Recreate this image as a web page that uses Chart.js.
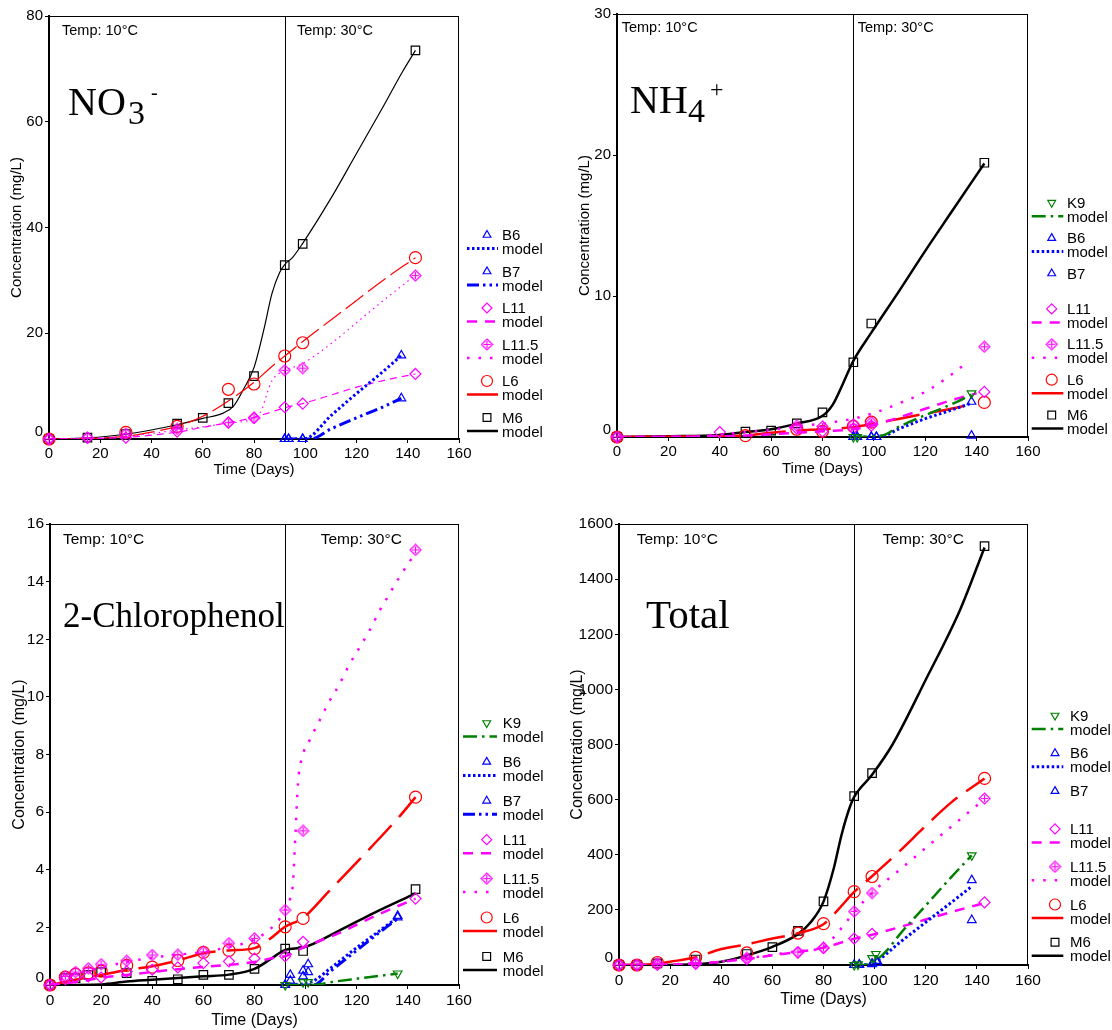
<!DOCTYPE html>
<html>
<head>
<meta charset="utf-8">
<title>Concentration vs time</title>
<script src="https://cdn.jsdelivr.net/npm/chart.js@4.4.1/dist/chart.umd.min.js"></script>
<style>
  html, body { margin: 0; padding: 0; background: #fff; }
  #wrap { position: relative; width: 1112px; height: 1030px; overflow: hidden; }
  canvas { position: absolute; }
</style>
</head>
<body>
<div id="wrap">
  <canvas id="no3" width="556" height="490" style="left:0;top:0"></canvas>
  <canvas id="nh4" width="556" height="490" style="left:556px;top:0"></canvas>
  <canvas id="cp" width="556" height="540" style="left:0;top:490px"></canvas>
  <canvas id="tot" width="556" height="540" style="left:556px;top:490px"></canvas>
</div>
<script>
const dayTicks = [0, 20, 40, 60, 80, 100, 120, 140, 160];
const switchDay = 92;

// NO3- : [day, mg/L]
const no3Ticks = [0, 20, 40, 60, 80];
const no3_B6 = [[92, 0], [93.5, 0], [99, 0], [137.5, 15.8]];
const no3_B6_fit = [[92, 0], [100, 0.1], [110, 4.4], [120, 8.6], [130, 12.6], [137.5, 15.8]];
const no3_B7 = [[92, 0], [93.5, 0], [99, 0], [137.5, 7.7]];
const no3_B7_fit = [[92, 0], [102, 0], [110, 1.9], [120, 4.0], [130, 6.0], [137.5, 7.7]];
const no3_L11 = [[0, 0], [15, 0.2], [30, 0.25], [50, 1.4], [70, 3.1], [80, 4.0], [92, 6.0], [99, 6.7], [143, 12.3]];
const no3_L11_fit = [[0, 0], [15, 0.05], [30, 0.3], [50, 1.3], [60, 2.2], [70, 3.1], [80, 4.1], [92, 5.9], [99, 6.7], [110, 8.3], [120, 9.8], [130, 11.0], [143, 12.3]];
const no3_L115 = [[0, 0], [15, 0.25], [30, 1.0], [50, 1.9], [70, 3.1], [80, 4.0], [92, 13.0], [99, 13.4], [143, 30.9]];
const no3_L115_fit = [[0, 0], [30, 0.5], [50, 1.7], [70, 3.0], [80, 4.0], [83, 5.5], [85, 8.5], [87, 11], [90, 12.5], [92, 13], [99, 14.3], [110, 18], [120, 22], [130, 26], [143, 31]];
const no3_L6 = [[0, 0], [30, 1.25], [50, 2.4], [70, 9.4], [80, 10.4], [92, 15.7], [99, 18.2], [143, 34.3]];
const no3_L6_fit = [[0, 0], [15, 0.1], [30, 0.5], [40, 1.3], [50, 2.4], [60, 4.3], [70, 7.2], [80, 10.7], [86, 13.3], [92, 15.7], [100, 18.8], [110, 22.5], [120, 26.2], [130, 29.9], [143, 34.3]];
const no3_M6 = [[0, 0], [15, 0.25], [30, 0.95], [50, 2.9], [60, 4.0], [70, 6.8], [80, 11.9], [92, 32.9], [99, 36.9], [143, 73.5]];
const no3_M6_fit = [[0, 0], [15, 0.2], [30, 0.9], [50, 2.7], [60, 3.9], [68, 4.9], [72, 6.2], [76, 9.5], [80, 13.5], [84, 21], [87, 27.5], [90, 31.5], [92, 33], [95, 34.3], [99, 37], [110, 45.5], [120, 54], [130, 62.5], [138, 69.5], [143, 73.5]];

// NH4+
const nh4Ticks = [0, 10, 20, 30];
const nh4_K9 = [[92, 0], [93.5, 0], [138, 3.1]];
const nh4_K9_fit = [[92, 0], [103, 0.1], [110, 0.75], [120, 1.55], [130, 2.3], [138, 3.0]];
const nh4_B6 = [[92, 0], [93.5, 0], [99, 0], [101, 0], [138, 2.5]];
const nh4_B6_fit = [[92, 0], [102, 0], [110, 0.6], [120, 1.3], [130, 1.9], [138, 2.4]];
const nh4_B7 = [[92, 0], [93.5, 0], [99, 0], [101, 0], [138, 0.1]];
const nh4_L11 = [[0, 0], [40, 0.35], [70, 0.6], [80, 0.4], [92, 0.6], [99, 0.8], [143, 3.2]];
const nh4_L11_fit = [[0, 0], [40, 0.05], [50, 0.1], [60, 0.2], [70, 0.3], [80, 0.4], [92, 0.55], [100, 0.85], [110, 1.4], [120, 2.0], [130, 2.6], [140, 3.1]];
const nh4_L115 = [[0, 0], [70, 0.8], [80, 0.75], [92, 0.9], [99, 1.05], [143, 6.4]];
const nh4_L115_fit = [[0, 0], [30, 0.05], [40, 0.2], [50, 0.35], [60, 0.5], [70, 0.75], [80, 0.95], [92, 1.3], [100, 1.7], [110, 2.4], [120, 3.2], [130, 4.4], [137, 5.4]];
const nh4_L6 = [[0, 0], [50, 0.1], [70, 0.55], [80, 0.4], [92, 0.75], [99, 1.05], [143, 2.45]];
const nh4_L6_fit = [[0, 0], [40, 0.05], [50, 0.1], [60, 0.3], [70, 0.45], [80, 0.55], [92, 0.7], [100, 0.95], [110, 1.3], [120, 1.65], [130, 2.0], [137.5, 2.3]];
const nh4_M6 = [[0, 0], [50, 0.38], [60, 0.45], [70, 0.97], [80, 1.75], [92, 5.3], [99, 8.05], [143, 19.45]];
const nh4_M6_fit = [[0, 0], [20, 0.05], [40, 0.15], [50, 0.35], [60, 0.55], [70, 0.95], [80, 1.5], [84, 2.3], [88, 3.8], [92, 5.4], [99, 7.4], [110, 10.4], [120, 13.2], [130, 15.9], [143, 19.4]];

// 2-chlorophenol
const cpTicks = [0, 2, 4, 6, 8, 10, 12, 14, 16];
const cp_K9 = [[92, 0], [99, 0.1], [101, 0.1], [136, 0.4]];
const cp_K9_fit = [[92, 0], [100, 0], [105, 0.02], [110, 0.1], [120, 0.22], [130, 0.33], [136, 0.4]];
const cp_B6 = [[92, 0], [94, 0.35], [99, 0.5], [101, 0.72], [136, 2.4]];
const cp_B6_fit = [[92, 0], [102, 0.1], [110, 0.6], [120, 1.3], [130, 1.95], [136, 2.35]];
const cp_B7 = [[92, 0], [94, 0.15], [99, 0.3], [101, 0.45], [136, 2.35]];
const cp_B7_fit = [[92, 0], [103, 0], [110, 0.5], [120, 1.2], [130, 1.9], [136, 2.3]];
const cp_L11 = [[0, 0], [6, 0.2], [10, 0.26], [15, 0.3], [20, 0.26], [30, 0.47], [40, 0.53], [50, 0.61], [60, 0.76], [70, 0.82], [80, 0.92], [92, 1.0], [99, 1.5], [143, 3.0]];
const cp_L11_fit = [[0, 0], [10, 0.1], [20, 0.25], [30, 0.35], [40, 0.45], [50, 0.55], [60, 0.63], [70, 0.7], [80, 0.8], [88, 0.95], [92, 1.0], [99, 1.3], [113, 1.8], [126, 2.35], [143, 3.0]];
const cp_L115 = [[0, 0], [6, 0.3], [10, 0.45], [15, 0.58], [20, 0.72], [30, 0.84], [40, 1.04], [50, 1.05], [60, 1.15], [70, 1.45], [80, 1.62], [92, 2.6], [99, 5.35], [143, 15.1]];
const cp_L115_fit = [[0, 0], [6, 0.25], [10, 0.38], [20, 0.6], [30, 0.8], [40, 0.95], [50, 1.05], [60, 1.15], [70, 1.32], [80, 1.58], [88, 2.1], [92, 2.6], [94, 3.0], [95, 3.5], [96, 5.2], [97, 7.0], [98.3, 7.8], [101.6, 8.5], [105, 9.1], [109, 9.8], [113, 10.4], [117, 11.1], [121, 11.7], [125, 12.3], [129, 13.0], [133, 13.6], [137, 14.2], [143, 15.0]];
const cp_L6 = [[0, 0], [6, 0.27], [10, 0.38], [15, 0.42], [20, 0.48], [30, 0.68], [40, 0.62], [50, 0.85], [60, 1.13], [70, 1.2], [80, 1.26], [92, 2.02], [99, 2.31], [143, 6.52]];
const cp_L6_fit = [[0, 0], [10, 0.18], [20, 0.35], [30, 0.52], [40, 0.65], [50, 0.85], [60, 1.1], [70, 1.2], [80, 1.28], [86, 1.6], [92, 2.02], [99, 2.33], [109, 3.24], [121, 4.35], [137, 5.88], [143, 6.52]];
const cp_M6 = [[0, 0], [6, 0.24], [10, 0.24], [15, 0.35], [20, 0.45], [30, 0.41], [40, 0.14], [50, 0.2], [60, 0.35], [70, 0.35], [80, 0.56], [92, 1.26], [99, 1.18], [143, 3.33]];
const cp_M6_fit = [[0, 0], [20, 0.02], [30, 0.12], [40, 0.18], [60, 0.3], [70, 0.36], [80, 0.56], [87, 0.94], [92, 1.22], [99, 1.3], [113, 1.88], [126, 2.47], [143, 3.18]];

// Total
const totTicks = [0, 200, 400, 600, 800, 1000, 1200, 1400, 1600];
const tot_K9 = [[92, 0], [93.5, 2], [99, 25], [100.5, 40], [138, 398]];
const tot_K9_fit = [[92, 0], [95, 0], [98, 5], [101, 20], [105, 55], [110, 113], [120, 216], [130, 319], [138, 398]];
const tot_B6 = [[92, 0], [94, 2], [99, 5], [101, 15], [138, 308]];
const tot_B6_fit = [[92, 0], [98, 2], [101, 15], [110, 83], [120, 155], [130, 227], [138, 285]];
const tot_B7 = [[92, 0], [94, 0], [99, 3], [101, 8], [138, 163]];
const tot_L11 = [[0, 0], [7, 0], [15, 0], [30, 4], [50, 21], [70, 45], [80, 62], [92, 96], [99, 113], [143, 227]];
const tot_L11_fit = [[0, 0], [15, 0], [20, 1], [30, 4], [40, 12], [50, 22], [60, 35], [70, 47], [80, 63], [92, 95], [99, 110], [110, 138], [120, 165], [130, 192], [143, 225]];
const tot_L115 = [[0, 0], [7, 0], [15, 7], [30, 8], [50, 26], [70, 47], [80, 62], [92, 194], [99, 261], [143, 604]];
const tot_L115_fit = [[0, 0], [15, 1], [30, 6], [40, 13], [50, 24], [60, 37], [70, 50], [80, 64], [84, 100], [88, 145], [92, 192], [99, 262], [110, 347], [120, 425], [130, 502], [143, 602]];
const tot_L6 = [[0, 0], [7, 0], [15, 9], [30, 28], [50, 44], [70, 116], [80, 150], [92, 266], [99, 321], [143, 677]];
const tot_L6_fit = [[0, 0], [10, 1], [15, 5], [20, 12], [30, 28], [40, 58], [50, 75], [60, 96], [70, 115], [80, 148], [86, 204], [92, 265], [99, 322], [110, 415], [120, 505], [130, 590], [143, 677]];
const tot_M6 = [[0, 0], [7, 0], [15, 6], [30, 20], [50, 40], [60, 65], [70, 124], [80, 231], [92, 613], [99, 696], [143, 1520]];
const tot_M6_fit = [[0, 0], [15, 0], [30, 3], [40, 12], [50, 35], [60, 66], [70, 112], [75, 155], [80, 230], [84, 350], [87, 470], [90, 565], [92, 610], [99, 690], [107, 800], [120, 1035], [133.5, 1290], [143, 1515]];

const SANS = "'Liberation Sans', Arial, sans-serif";
const SERIF = "'Liberation Serif', 'Times New Roman', serif";
Chart.defaults.font.family = SANS;
Chart.defaults.color = '#000';

// diamond with a cross inside, used for the L11.5 reactor
function crossDiamond(color) {
    const c = document.createElement('canvas');
    c.width = 13;
    c.height = 13;
    const g = c.getContext('2d');
    g.strokeStyle = color;
    g.lineWidth = 1.2;
    g.beginPath();
    g.moveTo(6.5, 1); g.lineTo(12, 6.5); g.lineTo(6.5, 12); g.lineTo(1, 6.5); g.closePath();
    g.moveTo(6.5, 3); g.lineTo(6.5, 10);
    g.moveTo(3, 6.5); g.lineTo(10, 6.5);
    g.stroke();
    return c;
}

const seriesLook = {
    'K9':    { color: '#008000', point: 'triangle', rotation: 180, radius: 5, dash: [14, 5, 2.5, 5] },
    'B6':    { color: '#0000ff', point: 'triangle', radius: 5, dash: [2.5, 2.5] },
    'B7':    { color: '#0000ff', point: 'triangle', radius: 5, dash: [12, 4, 2.5, 4, 2.5, 4] },
    'L11':   { color: '#ff00ff', point: 'rectRot', radius: 5.5, dash: [10, 8] },
    'L11.5': { color: '#ff00ff', point: crossDiamond('#ff00ff'), radius: 6, dash: [2.5, 9] },
    'L6':    { color: '#ff0000', point: 'circle', radius: 6, dash: [34, 11] },
    'M6':    { color: '#000000', point: 'rect', radius: 6, dash: [] }
};
// hairline versions used on the nitrate panel
const thinDash = { 'L11': [7, 5], 'L11.5': [1.5, 4], 'L6': [22, 6], 'M6': [] };

const panels = [
    {
        id: 'no3', yTicks: no3Ticks, thin: true, tickSize: 15, titleSize: 15,
        area: { l: 49, t: 16, r: 459, b: 439 }, yTitlePad: 7.7, xTitlePad: 11,
        temp: [[62, 31], [297, 31]], tempSize: 14.5,
        name: [['NO', 68, 115, 40], ['3', 128, 124, 34], ['-', 151, 99, 20]],
        key: { x: 487, y0: 235, dy: 36.5, textX: 502, x0: 467, x1: 498 },
        series: [
            ['B6', no3_B6, no3_B6_fit],
            ['B7', no3_B7, no3_B7_fit],
            ['L11', no3_L11, no3_L11_fit],
            ['L11.5', no3_L115, no3_L115_fit],
            ['L6', no3_L6, no3_L6_fit],
            ['M6', no3_M6, no3_M6_fit]
        ]
    },
    {
        id: 'nh4', yTicks: nh4Ticks, thin: false, tickSize: 15, titleSize: 15,
        area: { l: 61, t: 14, r: 472, b: 437 }, yTitlePad: 20, xTitlePad: 12,
        temp: [[65.7, 28.3], [301.7, 28.3]], tempSize: 14.5,
        name: [['NH', 74, 113, 40], ['4', 132, 122, 34], ['+', 154, 97, 24]],
        key: { x: 495.7, y0: 202.7, dy: 35.4, textX: 511, x0: 475.7, x1: 507.3 },
        series: [
            ['K9', nh4_K9, nh4_K9_fit],
            ['B6', nh4_B6, nh4_B6_fit],
            ['B7', nh4_B7, null],
            ['L11', nh4_L11, nh4_L11_fit],
            ['L11.5', nh4_L115, nh4_L115_fit],
            ['L6', nh4_L6, nh4_L6_fit],
            ['M6', nh4_M6, nh4_M6_fit]
        ]
    },
    {
        id: 'cp', yTicks: cpTicks, thin: false, tickSize: 15.5, titleSize: 16,
        area: { l: 50, t: 34, r: 459, b: 495 }, yTitlePad: 9.7, xTitlePad: 0,
        temp: [[63, 49.6], [320.7, 49.6]], tempSize: 15.5,
        name: [['2-Chlorophenol', 63, 137, 35]],
        key: { x: 486.7, y0: 233, dy: 38.9, textX: 502.7, x0: 463, x1: 497 },
        series: [
            ['K9', cp_K9, cp_K9_fit],
            ['B6', cp_B6, cp_B6_fit],
            ['B7', cp_B7, cp_B7_fit],
            ['L11', cp_L11, cp_L11_fit],
            ['L11.5', cp_L115, cp_L115_fit],
            ['L6', cp_L6, cp_L6_fit],
            ['M6', cp_M6, cp_M6_fit]
        ]
    },
    {
        id: 'tot', yTicks: totTicks, thin: false, tickSize: 15.5, titleSize: 16,
        area: { l: 63, t: 34, r: 472, b: 475 }, yTitlePad: 11.7, xTitlePad: 20.4,
        temp: [[80.7, 49.6], [326.7, 49.6]], tempSize: 15.5,
        name: [['Total', 90, 138, 41]],
        key: { x: 499, y0: 225.5, dy: 37.8, textX: 514, x0: 475.7, x1: 507.3 },
        series: [
            ['K9', tot_K9, tot_K9_fit],
            ['B6', tot_B6, tot_B6_fit],
            ['B7', tot_B7, null],
            ['L11', tot_L11, tot_L11_fit],
            ['L11.5', tot_L115, tot_L115_fit],
            ['L6', tot_L6, tot_L6_fit],
            ['M6', tot_M6, tot_M6_fit]
        ]
    }
];

function toXY(pairs) {
    return pairs.map(([x, y]) => ({ x: x, y: y }));
}

function lineLook(name, thin) {
    const s = seriesLook[name];
    if (thin && thinDash[name]) return { width: 1.2, dash: thinDash[name] };
    return { width: name === 'B6' || name === 'B7' ? 3 : 2.5, dash: s.dash };
}

function drawKey(ctx, p) {
    const k = p.key;
    p.series.forEach(([name, , fit], i) => {
        const s = seriesLook[name];
        const y = k.y0 + i * k.dy;
        ctx.setLineDash([]);
        ctx.strokeStyle = s.color;
        ctx.fillStyle = 'rgba(0,0,0,0)';
        ctx.lineWidth = 1.2;
        Chart.helpers.drawPoint(ctx, { pointStyle: s.point, rotation: s.rotation || 0, radius: s.radius - 0.5, borderWidth: 1.2 }, k.x, y);

        ctx.fillStyle = '#000';
        ctx.font = '15px ' + SANS;
        ctx.textAlign = 'left';
        ctx.textBaseline = 'middle';
        ctx.fillText(name, k.textX, y + 1);
        if (fit) {
            ctx.fillText('model', k.textX, y + 15);
            ctx.strokeStyle = s.color;
            ctx.lineWidth = name === 'B6' || name === 'B7' ? 3 : 2.5;
            ctx.setLineDash(name === 'L6' ? [] : s.dash);
            ctx.beginPath();
            ctx.moveTo(k.x0, y + 13.5);
            ctx.lineTo(k.x1, y + 13.5);
            ctx.stroke();
        }
    });
    ctx.setLineDash([]);
}

function decorFor(p) {
    return {
        id: 'decor',
        beforeDatasetsDraw(chart) {
            const { ctx, chartArea: a, scales: { x } } = chart;
            const xb = Math.round(x.getPixelForValue(switchDay)) + 0.5;
            ctx.save();
            ctx.strokeStyle = '#000';
            ctx.lineWidth = 1;
            ctx.beginPath();
            ctx.moveTo(a.left, a.top + 0.5);
            ctx.lineTo(a.right, a.top + 0.5);
            ctx.moveTo(a.right - 0.5, a.top);
            ctx.lineTo(a.right - 0.5, a.bottom);
            ctx.moveTo(xb, a.top);
            ctx.lineTo(xb, a.bottom);
            ctx.stroke();
            ctx.restore();
        },
        afterDraw(chart) {
            const { ctx, chartArea: a } = chart;
            ctx.save();
            ctx.fillStyle = '#000';
            ctx.textBaseline = 'middle';
            ctx.textAlign = 'left';
            ctx.font = p.tempSize + 'px ' + SANS;
            ctx.fillText('Temp: 10°C', p.temp[0][0], p.temp[0][1]);
            ctx.fillText('Temp: 30°C', p.temp[1][0], p.temp[1][1]);

            // zero on the value axis sits a little above the corner
            ctx.textAlign = 'right';
            ctx.font = p.tickSize + 'px ' + SANS;
            ctx.fillText('0', a.left - 6, a.bottom - 7);

            ctx.textAlign = 'left';
            ctx.textBaseline = 'alphabetic';
            p.name.forEach(([txt, x, y, size]) => {
                ctx.font = size + 'px ' + SERIF;
                ctx.fillText(txt, x, y);
            });

            drawKey(ctx, p);
            ctx.restore();
        }
    };
}

function buildPanel(p) {
    const canvas = document.getElementById(p.id);
    const W = canvas.width, H = canvas.height;
    const datasets = [];
    p.series.forEach(([name, obs, fit]) => {
        const s = seriesLook[name];
        if (fit) {
            const l = lineLook(name, p.thin);
            datasets.push({
                label: name + ' model',
                data: toXY(fit),
                borderColor: s.color,
                borderWidth: l.width,
                borderDash: l.dash,
                pointRadius: 0,
                cubicInterpolationMode: 'monotone',
                fill: false
            });
        }
        datasets.push({
            label: name,
            data: toXY(obs),
            showLine: false,
            pointStyle: s.point,
            pointRotation: s.rotation || 0,
            pointRadius: s.radius,
            pointBorderColor: s.color,
            pointBackgroundColor: 'rgba(0,0,0,0)',
            pointBorderWidth: 1.2,
            clip: false
        });
    });

    const tickFont = { size: p.tickSize, family: SANS };
    const titleFont = { size: p.titleSize, family: SANS };
    const yMax = p.yTicks[p.yTicks.length - 1];

    return new Chart(canvas, {
        type: 'line',
        data: { datasets: datasets },
        options: {
            responsive: false,
            animation: false,
            devicePixelRatio: 1,
            events: [],
            layout: { padding: { left: 0, top: p.area.t, right: W - p.area.r, bottom: 0 } },
            plugins: {
                legend: { display: false },
                tooltip: { enabled: false }
            },
            scales: {
                x: {
                    type: 'linear',
                    min: 0,
                    max: 160,
                    afterBuildTicks: s => { s.ticks = dayTicks.map(v => ({ value: v })); },
                    afterFit: s => { s.height = H - p.area.b; },
                    ticks: { font: tickFont, color: '#000', padding: 2, maxRotation: 0, autoSkip: false },
                    grid: { display: true, drawOnChartArea: false, drawTicks: true, tickLength: 4, color: '#000' },
                    border: { display: true, color: '#000', width: 2 },
                    title: { display: true, text: 'Time (Days)', font: titleFont, color: '#000', padding: { top: 0, bottom: p.xTitlePad } }
                },
                y: {
                    min: 0,
                    max: yMax,
                    afterBuildTicks: s => { s.ticks = p.yTicks.map(v => ({ value: v })); },
                    afterFit: s => { s.width = p.area.l; },
                    ticks: { font: tickFont, color: '#000', padding: 2, callback: v => (v === 0 ? '' : v) },
                    grid: { display: true, drawOnChartArea: false, drawTicks: true, tickLength: 4, color: '#000' },
                    border: { display: true, color: '#000', width: 2 },
                    title: { display: true, text: 'Concentration (mg/L)', font: titleFont, color: '#000', padding: { top: p.yTitlePad, bottom: 0 } }
                }
            }
        },
        plugins: [decorFor(p)]
    });
}

panels.forEach(buildPanel);
</script>
</body>
</html>
